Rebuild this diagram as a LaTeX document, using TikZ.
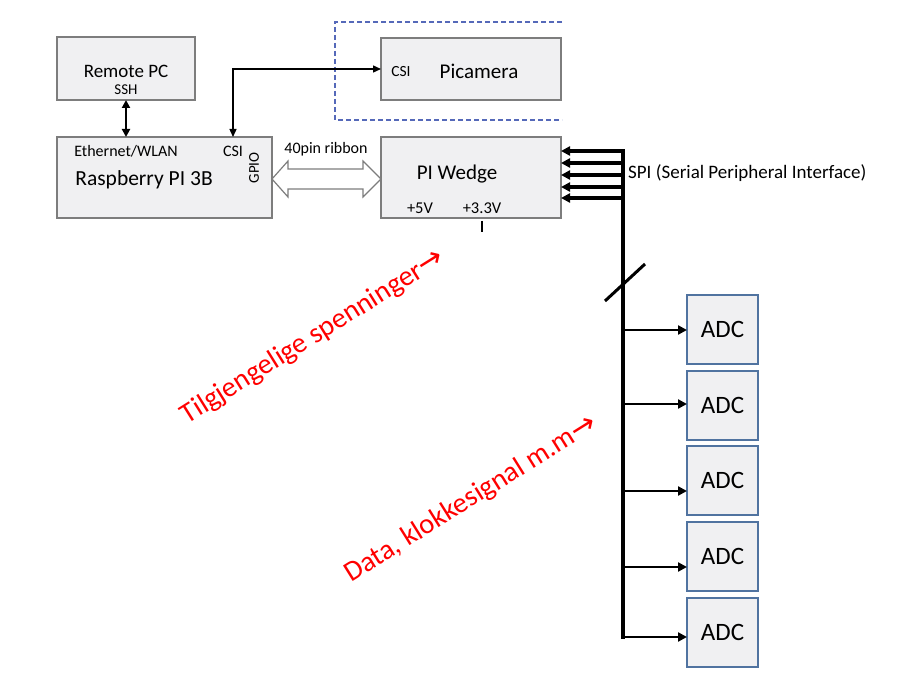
\documentclass[tikz,border=0pt]{standalone}
\usepackage{fontspec}
\setmainfont{Carlito}
\newfontfamily\symfont{DejaVu Sans}
\usetikzlibrary{arrows.meta}
\definecolor{boxfill}{RGB}{240,240,242}
\definecolor{boxline}{RGB}{125,125,125}
\definecolor{adcline}{RGB}{80,115,160}
\definecolor{dashblue}{RGB}{85,105,185}
\definecolor{redtxt}{RGB}{255,0,0}
\newcommand{\fs}[1]{\fontsize{#1}{#1}\selectfont}
\begin{document}
\begin{tikzpicture}[x=1pt,y=-1pt,
  box/.style={draw=boxline, fill=boxfill, line width=1.3pt, inner sep=0pt, outer sep=0pt},
  adcbox/.style={draw=adcline, fill=boxfill, line width=1.5pt, inner sep=0pt, outer sep=0pt,
     minimum width=71pt, minimum height=69pt, font=\fs{25}},
  lbl/.style={inner sep=0pt, text=black},
  thinarr/.style={line width=1.4pt, {Triangle[length=8pt,width=7pt]}-{Triangle[length=8pt,width=7pt]}},
  dblarr/.style={line width=2.4pt, {Triangle[length=8pt,width=8pt]}-{Triangle[length=8pt,width=8pt]}},
  spiarr/.style={line width=3.2pt, -{Triangle[length=9pt,width=9pt]}},
  adcarr/.style={line width=2.8pt, -{Triangle[length=9pt,width=9pt]}},
  redlbl/.style={text=redtxt, rotate=32, inner sep=0pt, font=\fs{28.5}}
]
\useasboundingbox (0,0) rectangle (911,690);
\fill[white] (0,0) rectangle (911,690);

% dashed camera region (open on the right)
\draw[dashblue, line width=1.2pt, dash pattern=on 5pt off 3pt] (562,22) -- (335,22) -- (335,120) -- (562,120);

% boxes
\node[box, minimum width=138pt, minimum height=63pt] (pc) at (126,68.5) {};
\node[box, minimum width=215pt, minimum height=81pt] (rpi) at (164.5,177.5) {};
\node[box, minimum width=180pt, minimum height=62pt] (cam) at (471,69) {};
\node[box, minimum width=180pt, minimum height=81pt] (wedge) at (471,177.5) {};

% box texts
\node[lbl, font=\fs{19}] (pct) at (126,71) {Remote PC};
\node[lbl, font=\fs{15}] (ssh) at (126,90) {SSH};
\node[lbl, font=\fs{16}] (eth) at (126,151) {Ethernet/WLAN};
\node[lbl, font=\fs{16}] (csia) at (233,151) {CSI};
\node[lbl, font=\fs{21.5}] (rpit) at (144,180) {Raspberry PI 3B};
\node[lbl, font=\fs{15}, rotate=90] (gpio) at (254,168) {GPIO};
\node[lbl, font=\fs{16}] (ribbon) at (326,149) {40pin ribbon};
\node[lbl, font=\fs{15.5}] (csib) at (401,72) {CSI};
\node[lbl, font=\fs{21}] (camt) at (479,71) {Picamera};
\node[lbl, font=\fs{21}] (wedget) at (457,174) {PI Wedge};
\node[lbl, font=\fs{16.5}] (v5) at (420,208) {+5V};
\node[lbl, font=\fs{16.5}] (v33) at (482,208) {+3.3V};
\node[lbl, font=\fs{19}, anchor=west] (spi) at (628,173) {SPI (Serial Peripheral Interface)};

% ADC boxes
\node[adcbox] (adc1) at (722.5,329.5) {ADC};
\node[adcbox] (adc2) at (722.5,405.5) {ADC};
\node[adcbox] (adc3) at (722.5,480.5) {ADC};
\node[adcbox] (adc4) at (722.5,556.5) {ADC};
\node[adcbox] (adc5) at (722.5,632.5) {ADC};

% Remote PC <-> Raspberry
\draw[dblarr] (pc.south) -- (rpi.north -| pc.south);

% CSI link
\coordinate (csi) at (233,137);
\draw[thinarr] (csi) |- (cam.west);

% 40 pin ribbon hollow double arrow
\draw[boxline, fill=white, line width=1.2pt]
  (rpi.east |- 0,179) -- (288,161) -- (288,169) -- (363,169) -- (363,161) -- (wedge.west |- 0,179)
  -- (363,197) -- (363,189) -- (288,189) -- (288,197) -- cycle;

% tick below wedge
\coordinate (tk1) at (482,221);
\coordinate (tk2) at (482,232);
\draw[line width=2pt] (tk1) -- (tk2);

% SPI bus
\coordinate (s1) at (623,151);
\coordinate (s2) at (623,163);
\coordinate (s3) at (623,175);
\coordinate (s4) at (623,187);
\coordinate (s5) at (623,198);
\coordinate (b1) at (623,330);
\coordinate (b2) at (623,404);
\coordinate (b3) at (623,491);
\coordinate (b4) at (623,567);
\coordinate (b5) at (623,637);
\draw[line width=3.2pt, line cap=rect] (s1) -- (b5);
\foreach \s in {s1,s2,s3,s4,s5}
  \draw[spiarr] (\s) -- (\s -| wedge.east);
\draw[adcarr] (b1) -- (b1 -| adc1.west);
\draw[adcarr] (b2) -- (b2 -| adc2.west);
\draw[adcarr] (b3) -- (b3 -| adc3.west);
\draw[adcarr] (b4) -- (b4 -| adc4.west);
\draw[adcarr] (b5) -- (b5 -| adc5.west);

% bus width slash
\coordinate (sl1) at (605,301);
\coordinate (sl2) at (645,264);
\draw[line width=3pt] (sl1) -- (sl2);

% red annotations
\node[redlbl] (t1) at (313,337) {Tilgjengelige spenninger{\symfont\fs{30}→}};
\node[redlbl] (t2) at (471,499) {Data, klokkesignal m.m{\symfont\fs{30}→}};
\end{tikzpicture}
\end{document}
